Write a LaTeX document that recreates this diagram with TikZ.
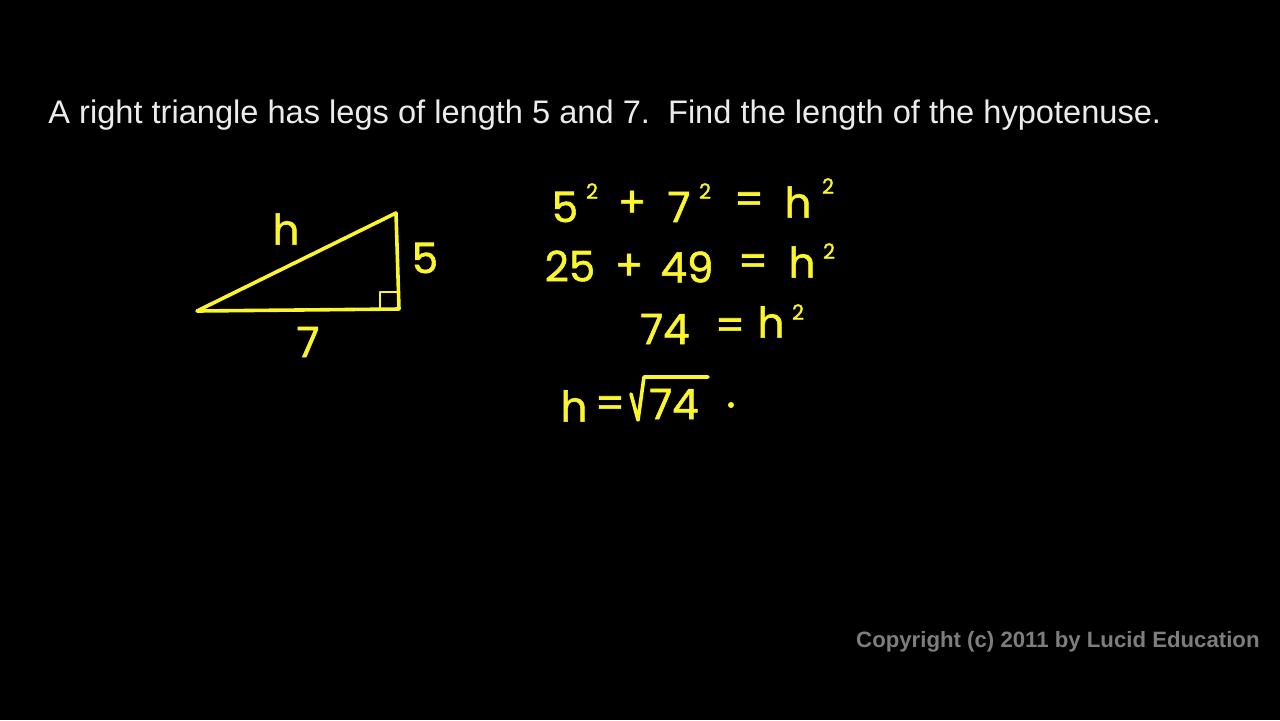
\documentclass[tikz,border=0pt]{standalone}
\usepackage{fontspec}
\setmainfont{Liberation Sans}
\newfontfamily\hand[FakeBold=1.3]{Poppins}
\definecolor{chalk}{RGB}{250,245,45}
\definecolor{titlegray}{RGB}{235,235,235}
\definecolor{copygray}{RGB}{125,125,125}
\tikzset{
  hw/.style={text=chalk, inner sep=0pt, font=\hand\fontsize{21}{21}\selectfont},
  hsup/.style={text=chalk, inner sep=0pt, font=\hand\fontsize{10.5}{10.5}\selectfont},
  chalkline/.style={draw=chalk, line width=1.8pt, line join=round, line cap=round},
}
\begin{document}
\begin{tikzpicture}[x=0.5pt,y=-0.5pt]
\fill[black] (0,0) rectangle (1280,720);
\useasboundingbox (0,0) rectangle (1280,720);
% title
\node[anchor=base west, inner sep=0pt, text=titlegray, font=\fontsize{16.3}{20}\selectfont] (title) at (48,123)
  {A right triangle has legs of length 5 and 7.\ \ Find the length of the hypotenuse.};
% copyright
\node[anchor=base east, inner sep=0pt, text=copygray, font=\bfseries\fontsize{11.1}{13}\selectfont] (copy) at (1260,647)
  {Copyright (c) 2011 by Lucid Education};
% triangle
\coordinate (A) at (197,311);
\coordinate (B) at (399,309);
\coordinate (C) at (396,213);
\draw[chalkline] (A) -- (B) -- (C) -- cycle;
\draw[chalkline, line width=1.3pt] (380,309) -- (380,292) -- (398,292);
\node[hw] (lh) at (286,229) {h};
\node[hw] (l5) at (425,258) {5};
\node[hw] (l7) at (308,342) {7};
% line 1
\node[hw] (a1) at (565,207) {5};
\node[hsup] (a2) at (592,191) {2};
\node[hw] (a3) at (632,204) {+};
\node[hw] (a4) at (679,207) {7};
\node[hsup] (a5) at (705,191) {2};
\node[hw] (a6) at (749,203) {=};
\node[hw] (a7) at (798,202) {h};
\node[hsup] (a8) at (828,186) {2};
% line 2
\node[hw] (b1) at (570,266) {25};
\node[hw] (b2) at (629,267) {+};
\node[hw] (b3) at (687,267) {49};
\node[hw] (b4) at (753,265) {=};
\node[hw] (b5) at (802,262) {h};
\node[hsup] (b6) at (829,251) {2};
% line 3
\node[hw] (c1) at (665,329) {74};
\node[hw] (c2) at (730,329) {=};
\node[hw] (c3) at (771,322) {h};
\node[hsup] (c4) at (798,312) {2};
% line 4
\node[hw] (d1) at (574,406) {h};
\node[hw] (d2) at (610,407) {=};
\node[hw] (d3) at (674,404) {74};
\draw[chalkline] (631,394) -- (638,420) -- (644,377) -- (708,377);
\fill[chalk] (731,405) circle (3);
\end{tikzpicture}
\end{document}
